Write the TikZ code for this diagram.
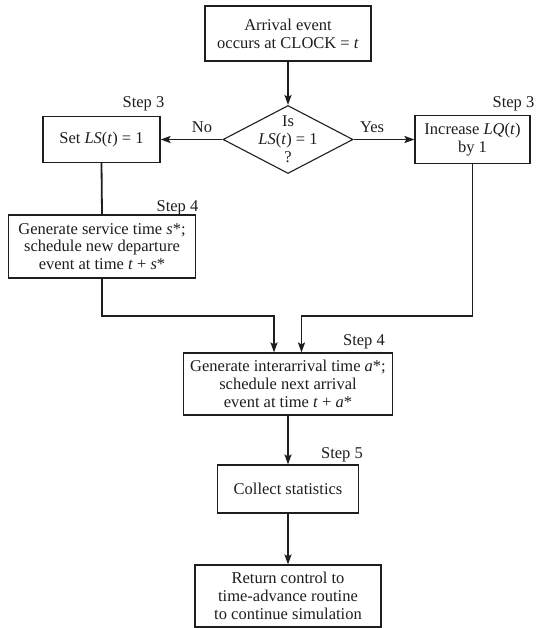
\documentclass[tikz,border=0pt]{standalone}
\usepackage{fontspec}
\setmainfont{Liberation Serif}
\usetikzlibrary{shapes.geometric,arrows.meta}
\definecolor{ink}{HTML}{1E1E1E}
\begin{document}
\begin{tikzpicture}[x=1pt,y=-1pt,
  every node/.style={font=\fontsize{16.5}{17.8}\selectfont, text=ink},
  box/.style={draw=ink, line width=1.1pt, rectangle, align=center, inner sep=0pt},
  dia/.style={draw=ink, line width=1.1pt, diamond, inner sep=0pt, minimum width=130pt, minimum height=68pt},
  lbl/.style={inner sep=0pt, align=center},
  conn/.style={draw=ink, line width=1.8pt, -{Stealth[length=10pt,width=7pt,inset=2pt]}},
  plain/.style={draw=ink, line width=1.8pt}]
\useasboundingbox (0,0) rectangle (536,628);
\fill[white] (0,0) rectangle (536,628);

\node[box, minimum width=166pt, minimum height=55pt] (arr) at (288,33.5)
  {Arrival event\\occurs at CLOCK = \textit{t}};
\node[dia] (dec) at (288,139.5) {};
\node[lbl] (dectext) at (dec.center) {Is\\\textit{LS}(\textit{t}) = 1\\?};
\node[box, minimum width=117pt, minimum height=46pt] (set) at (101.5,139.5)
  {Set \textit{LS}(\textit{t}) = 1};
\node[box, minimum width=115pt, minimum height=48pt] (inc) at (472.5,139.5)
  {Increase \textit{LQ}(\textit{t})\\by 1};
\node[box, minimum width=187pt, minimum height=63pt] (serv) at (102,246.5)
  {Generate service time \textit{s}*;\\schedule new departure\\event at time \textit{t} + \textit{s}*};
\node[box, minimum width=209pt, minimum height=62pt] (gen) at (288,384)
  {Generate interarrival time \textit{a}*;\\schedule next arrival\\event at time \textit{t} + \textit{a}*};
\node[box, minimum width=141pt, minimum height=48pt] (col) at (288,489)
  {Collect statistics};
\node[box, minimum width=186pt, minimum height=62pt] (ret) at (288,596)
  {Return control to\\time-advance routine\\to continue simulation};

\node[lbl] (s3l) at (143.5,104) {Step 3};
\node[lbl] (s3r) at (513.5,104) {Step 3};
\node[lbl] (s4u) at (177.5,208) {Step 4};
\node[lbl] (s4l) at (364,342) {Step 4};
\node[lbl] (s5) at (342,455) {Step 5};
\node[lbl] (no) at (202,127) {No};
\node[lbl] (yes) at (372,127) {Yes};

\coordinate (jl) at (274,316);
\coordinate (jr) at (301.5,316);

\draw[conn] (arr.south) -- (dec.north);
\draw[conn] (dec.west) -- (set.east);
\draw[conn] (dec.east) -- (inc.west);
\draw[plain] (set.south) -- (serv.north);
\draw[conn] (serv.south) |- (jl) -- (jl |- gen.north);
\draw[conn] (inc.south) |- (jr) -- (jr |- gen.north);
\draw[conn] (gen.south) -- (col.north);
\draw[conn] (col.south) -- (ret.north);
\end{tikzpicture}
\end{document}
